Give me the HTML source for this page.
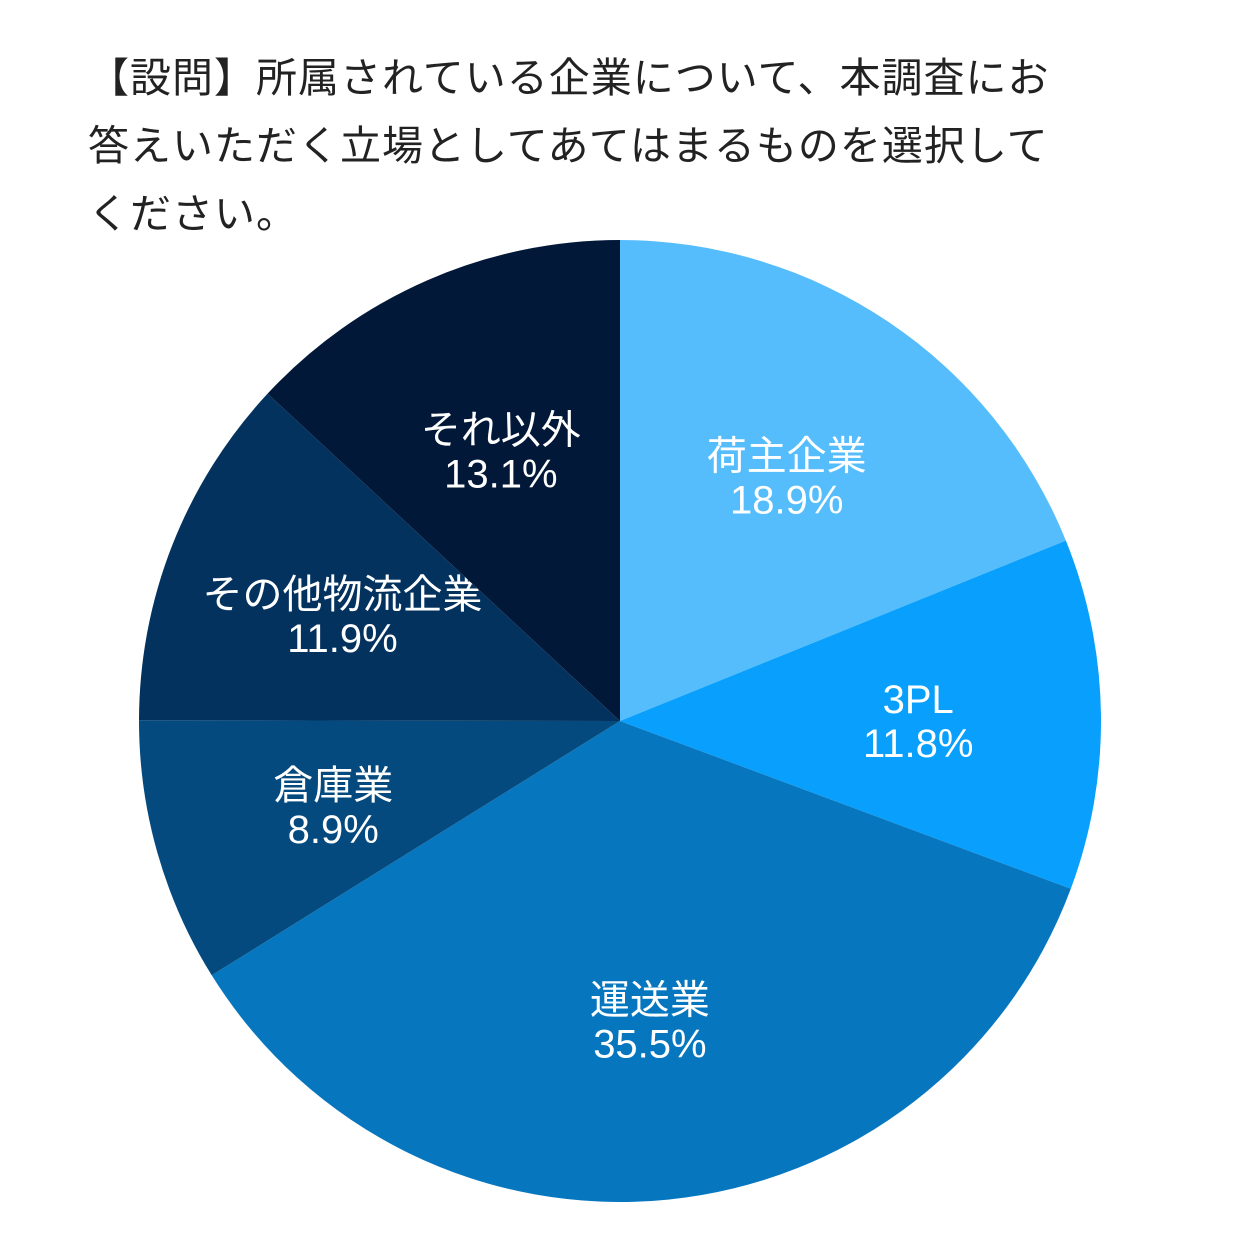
<!DOCTYPE html>
<html><head><meta charset="utf-8">
<style>
html,body{margin:0;padding:0;background:#fff;}
body{width:1240px;height:1241px;position:relative;overflow:hidden;font-family:"Liberation Sans","Noto Sans CJK JP",sans-serif;}
#title{position:absolute;left:88px;top:44px;font-size:41px;line-height:68px;color:#222;letter-spacing:1px;white-space:nowrap;}
svg{position:absolute;left:0;top:0;}
</style></head><body>
<div id="title">【設問】所属されている企業について、本調査にお<br>答えいただく立場としてあてはまるものを選択して<br>ください。</div>
<svg id="chart" width="1240" height="1241"></svg>
<script>
const categories=["荷主企業","3PL","運送業","倉庫業","その他物流企業","それ以外"];
const values=[18.9,11.8,35.5,8.9,11.9,13.1];
const labels=["18.9%","11.8%","35.5%","8.9%","11.9%","13.1%"];
const colors=["#56bdfc","#08a0fc","#0677bf","#054a7e","#04325e","#021838"];
const cx=620,cy=721,r=481;
const svg=document.getElementById('chart');
const NS='http://www.w3.org/2000/svg';
const total=values.reduce((a,b)=>a+b,0);
function pt(a,rr){return [cx+rr*Math.sin(a),cy-rr*Math.cos(a)];}
let acc=0;
values.forEach((v,i)=>{
  const a0=acc/total*2*Math.PI;acc+=v;const a1=acc/total*2*Math.PI;
  const p0=pt(a0,r),p1=pt(a1,r);
  const large=(a1-a0)>Math.PI?1:0;
  const path=document.createElementNS(NS,'path');
  path.setAttribute('d',`M${cx},${cy} L${p0[0]},${p0[1]} A${r},${r} 0 ${large} 1 ${p1[0]},${p1[1]} Z`);
  path.setAttribute('fill',colors[i]);
  
  
  svg.appendChild(path);
  const m=(a0+a1)/2;const lp=pt(m,r*0.62);
  const t=document.createElementNS(NS,'text');
  t.setAttribute('x',lp[0]);t.setAttribute('y',lp[1]-4);
  t.setAttribute('text-anchor','middle');t.setAttribute('fill','#fff');
  t.setAttribute('font-size','40');
  
  
  const s1=document.createElementNS(NS,'tspan');s1.setAttribute('x',lp[0]);s1.textContent=categories[i];
  const s2=document.createElementNS(NS,'tspan');s2.setAttribute('x',lp[0]);s2.setAttribute('dy','44');s2.textContent=labels[i];
  t.appendChild(s1);t.appendChild(s2);svg.appendChild(t);
});
</script>
</body></html>
